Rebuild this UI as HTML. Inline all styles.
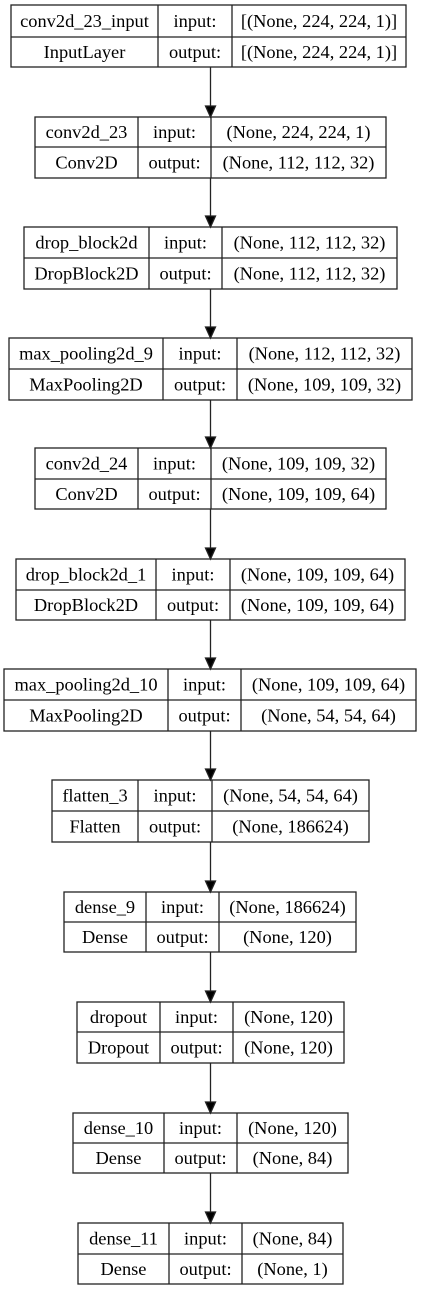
<!DOCTYPE html>
<html><head><meta charset="utf-8"><style>
html,body{margin:0;padding:0;background:#fff;}
svg{display:block;}
</style></head><body>
<svg width="421" height="1291" viewBox="0 0 421 1291" xmlns="http://www.w3.org/2000/svg">
<g id="g" stroke="#222" stroke-width="1.3" fill="none"></g>
<g id="t" font-family="'Liberation Serif', serif" font-size="18.4" fill="#000" text-anchor="middle"></g>
</svg>
<script>
var nodes=[
[5,37,67,11,158,232,406,"conv2d_23_input","InputLayer","[(None, 224, 224, 1)]","[(None, 224, 224, 1)]"],
[117,147,178,35,138,211,386,"conv2d_23","Conv2D","(None, 224, 224, 1)","(None, 112, 112, 32)"],
[227,258,289,24,149,222,397,"drop_block2d","DropBlock2D","(None, 112, 112, 32)","(None, 112, 112, 32)"],
[338,369,400,9,163,237,412,"max_pooling2d_9","MaxPooling2D","(None, 112, 112, 32)","(None, 109, 109, 32)"],
[448,479,509,35,138,211,386,"conv2d_24","Conv2D","(None, 109, 109, 32)","(None, 109, 109, 64)"],
[559,590,620,16,156,230,405,"drop_block2d_1","DropBlock2D","(None, 109, 109, 64)","(None, 109, 109, 64)"],
[669,700,731,4,168,241,416,"max_pooling2d_10","MaxPooling2D","(None, 109, 109, 64)","(None, 54, 54, 64)"],
[780,811,842,52,138,212,369,"flatten_3","Flatten","(None, 54, 54, 64)","(None, 186624)"],
[892,922,952,64,146,219,356,"dense_9","Dense","(None, 186624)","(None, 120)"],
[1002,1032,1063,77,160,233,344,"dropout","Dropout","(None, 120)","(None, 120)"],
[1113,1143,1173,73,164,237,348,"dense_10","Dense","(None, 120)","(None, 84)"],
[1223,1254,1284,78,169,242,343,"dense_11","Dense","(None, 84)","(None, 1)"]
];
var g="",t="",ax=210.5;
nodes.forEach(function(n,i){
 var y0=n[0],ym=n[1],y1=n[2],x0=n[3],x1=n[4],x2=n[5],x3=n[6];
 g+='<rect x="'+x0+'" y="'+y0+'" width="'+(x3-x0)+'" height="'+(y1-y0)+'"/>';
 g+='<line x1="'+x0+'" y1="'+ym+'" x2="'+x3+'" y2="'+ym+'"/>';
 g+='<line x1="'+x1+'" y1="'+y0+'" x2="'+x1+'" y2="'+y1+'"/>';
 g+='<line x1="'+x2+'" y1="'+y0+'" x2="'+x2+'" y2="'+y1+'"/>';
 var b1=(y0+ym)/2+6,b2=(ym+y1)/2+6;
 t+='<text x="'+(x0+x1)/2+'" y="'+b1+'">'+n[7]+'</text>';
 t+='<text x="'+(x0+x1)/2+'" y="'+b2+'">'+n[8]+'</text>';
 t+='<text x="'+(x1+x2)/2+'" y="'+b1+'">input:</text>';
 t+='<text x="'+(x1+x2)/2+'" y="'+b2+'">output:</text>';
 t+='<text x="'+(x2+x3)/2+'" y="'+b1+'">'+n[9]+'</text>';
 t+='<text x="'+(x2+x3)/2+'" y="'+b2+'">'+n[10]+'</text>';
 if(i<nodes.length-1){
  var ny=nodes[i+1][0];
  g+='<line x1="'+ax+'" y1="'+y1+'" x2="'+ax+'" y2="'+(ny-10)+'"/>';
  g+='<polygon fill="#000" points="'+(ax-5)+','+(ny-11)+' '+(ax+5)+','+(ny-11)+' '+ax+','+ny+'"/>';
 }
});
document.getElementById("g").innerHTML=g;
document.getElementById("t").innerHTML=t;
</script>
</body></html>
